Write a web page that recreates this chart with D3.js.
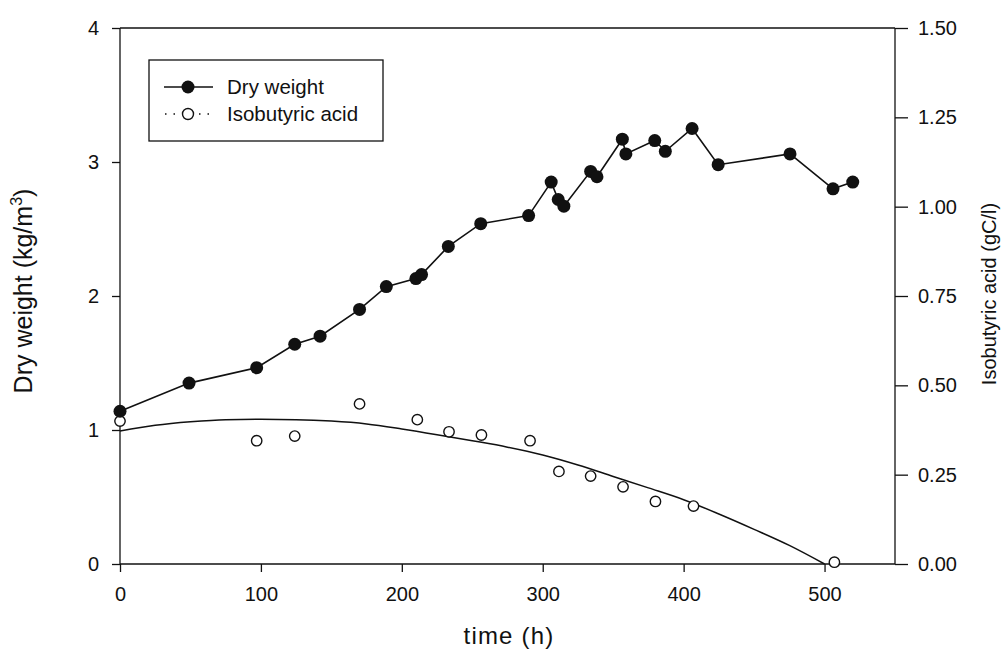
<!DOCTYPE html>
<html>
<head>
<meta charset="utf-8">
<script src="https://cdn.jsdelivr.net/npm/d3@7"></script>
<style>
  body { margin: 0; background: #fff; }
  text { font-family: "Liberation Sans", Arial, sans-serif; fill: #111; }
</style>
</head>
<body>
<div id="container"></div>
<script>
/* CONSTANTS AND GLOBALS */
const width = 1007,
  height = 652,
  margin = {top: 28, bottom: 88, left: 120, right: 112};

// dry weight (kg/m3) vs time (h)
const dwTime  = [0, 49, 97, 124, 142, 170, 189, 210, 214, 233, 256, 290, 306, 311, 315, 334, 338.5, 356.5, 359, 379.5, 387, 406, 424.5, 475.5, 506, 520];
const dwValue = [1.14, 1.35, 1.465, 1.64, 1.70, 1.90, 2.07, 2.13, 2.16, 2.37, 2.54, 2.60, 2.85, 2.72, 2.67, 2.93, 2.89, 3.17, 3.06, 3.16, 3.08, 3.25, 2.98, 3.06, 2.80, 2.85];

// isobutyric acid (gC/l) measured
const acidTime  = [0, 97, 124, 170, 211, 233.5, 256.5, 291, 311.5, 334, 357, 380, 407, 507];
const acidValue = [0.40, 0.345, 0.358, 0.448, 0.404, 0.37, 0.361, 0.345, 0.259, 0.246, 0.216, 0.175, 0.162, 0.005];

// isobutyric acid fitted curve
const fitTime  = [0, 25, 50, 75, 100, 125, 150, 175, 200, 225, 250, 275, 300, 325, 350, 375, 400, 425, 450, 475, 500];
const fitValue = [0.372, 0.388, 0.398, 0.404, 0.405, 0.404, 0.400, 0.392, 0.378, 0.362, 0.345, 0.327, 0.305, 0.277, 0.245, 0.213, 0.180, 0.140, 0.097, 0.052, 0.0];

const xTicks = [0, 100, 200, 300, 400, 500];
const yLeftTicks = [0, 1, 2, 3, 4];
const yRightTicks = [0, 0.25, 0.5, 0.75, 1.0, 1.25, 1.5];

const legendLabels = ["Dry weight", "Isobutyric acid"];

/* SCALES */
const xScale = d3.scaleLinear()
  .domain([0, 550])
  .range([margin.left, width - margin.right]);

const yLeft = d3.scaleLinear()
  .domain([0, 4])
  .range([height - margin.bottom, margin.top]);

const yRight = d3.scaleLinear()
  .domain([0, 1.5])
  .range([height - margin.bottom, margin.top]);

/* SVG */
const svg = d3.select("#container")
  .append("svg")
  .attr("width", width)
  .attr("height", height);

function frameLine(x1, y1, x2, y2) {
  svg.append("line")
    .attr("x1", x1).attr("y1", y1).attr("x2", x2).attr("y2", y2)
    .attr("stroke", "#111").attr("stroke-width", 1.3);
}

/* AXES */
const xAxis = d3.axisBottom(xScale).tickValues(xTicks).tickSize(8).tickPadding(15)
  .tickFormat(d3.format("d"));
const yAxisL = d3.axisLeft(yLeft).tickValues(yLeftTicks).tickSize(8).tickPadding(13)
  .tickFormat(d3.format("d"));
const yAxisR = d3.axisRight(yRight).tickValues(yRightTicks).tickSize(13).tickPadding(10)
  .tickFormat(d3.format(".2f"));

function styleAxis(g) {
  g.select(".domain").remove();
  g.selectAll("line").attr("stroke", "#111").attr("stroke-width", 1.3);
  g.selectAll("text").attr("font-size", 20).attr("fill", "#111")
    .attr("font-family", "Liberation Sans, Arial, sans-serif");
}

svg.append("g")
  .attr("transform", `translate(0,${height - margin.bottom})`)
  .call(xAxis)
  .call(styleAxis);

svg.append("g")
  .attr("transform", `translate(${margin.left},0)`)
  .call(yAxisL)
  .call(styleAxis);

svg.append("g")
  .attr("transform", `translate(${width - margin.right},0)`)
  .call(yAxisR)
  .call(styleAxis);

// plot frame (top, bottom, left, right)
frameLine(margin.left, margin.top, width - margin.right, margin.top);
frameLine(margin.left, height - margin.bottom, width - margin.right, height - margin.bottom);
frameLine(margin.left, margin.top, margin.left, height - margin.bottom);
frameLine(width - margin.right, margin.top, width - margin.right, height - margin.bottom);

/* AXIS TITLES */
svg.append("text")
  .attr("x", 509)
  .attr("y", 644)
  .attr("text-anchor", "middle")
  .attr("font-size", 24)
  .attr("letter-spacing", 1.2)
  .text("time (h)");

const leftTitle = svg.append("text")
  .attr("transform", "translate(32,291) rotate(-90)")
  .attr("text-anchor", "middle")
  .attr("font-size", 25);
leftTitle.append("tspan").text("Dry weight (kg/m");
leftTitle.append("tspan").attr("dy", -10).attr("font-size", 16).text("3");
leftTitle.append("tspan").attr("dy", 10).text(")");

svg.append("text")
  .attr("transform", "translate(996,294) rotate(-90)")
  .attr("text-anchor", "middle")
  .attr("font-size", 20)
  .text("Isobutyric acid (gC/l)");

/* DATA */
const dwData = dwTime.map((t, i) => ({t, v: dwValue[i]}));
const acidData = acidTime.map((t, i) => ({t, v: acidValue[i]}));
const fitData = fitTime.map((t, i) => ({t, v: fitValue[i]}));

// fitted acid curve
svg.append("path")
  .datum(fitData)
  .attr("fill", "none")
  .attr("stroke", "#111")
  .attr("stroke-width", 1.5)
  .attr("d", d3.line().x(d => xScale(d.t)).y(d => yRight(d.v)).curve(d3.curveMonotoneX));

// dry weight line
svg.append("path")
  .datum(dwData)
  .attr("fill", "none")
  .attr("stroke", "#111")
  .attr("stroke-width", 1.6)
  .attr("d", d3.line().x(d => xScale(d.t)).y(d => yLeft(d.v)));

svg.selectAll("circle.acid")
  .data(acidData)
  .join("circle")
  .attr("class", "acid")
  .attr("cx", d => xScale(d.t))
  .attr("cy", d => yRight(d.v))
  .attr("r", 5.2)
  .attr("fill", "#fff")
  .attr("stroke", "#111")
  .attr("stroke-width", 1.4);

svg.selectAll("circle.dw")
  .data(dwData)
  .join("circle")
  .attr("class", "dw")
  .attr("cx", d => xScale(d.t))
  .attr("cy", d => yLeft(d.v))
  .attr("r", 6.5)
  .attr("fill", "#111");

/* LEGEND */
const legend = svg.append("g");
legend.append("rect")
  .attr("x", 149).attr("y", 60)
  .attr("width", 234).attr("height", 81)
  .attr("fill", "#fff").attr("stroke", "#111").attr("stroke-width", 1.3);

legend.append("line")
  .attr("x1", 164).attr("x2", 213).attr("y1", 87).attr("y2", 87)
  .attr("stroke", "#111").attr("stroke-width", 1.6);
legend.append("circle").attr("cx", 188).attr("cy", 87).attr("r", 6.5).attr("fill", "#111");

legend.append("line")
  .attr("x1", 165).attr("x2", 214).attr("y1", 114).attr("y2", 114)
  .attr("stroke", "#111").attr("stroke-width", 1.5)
  .attr("stroke-dasharray", "1.5,7");
legend.append("circle").attr("cx", 188).attr("cy", 114).attr("r", 5.5)
  .attr("fill", "#fff").attr("stroke", "#111").attr("stroke-width", 1.4);

legend.selectAll("text.leg")
  .data(legendLabels)
  .join("text")
  .attr("class", "leg")
  .attr("x", 227)
  .attr("y", (d, i) => 94 + i * 27)
  .attr("font-size", 20.5)
  .text(d => d);
</script>
</body>
</html>
